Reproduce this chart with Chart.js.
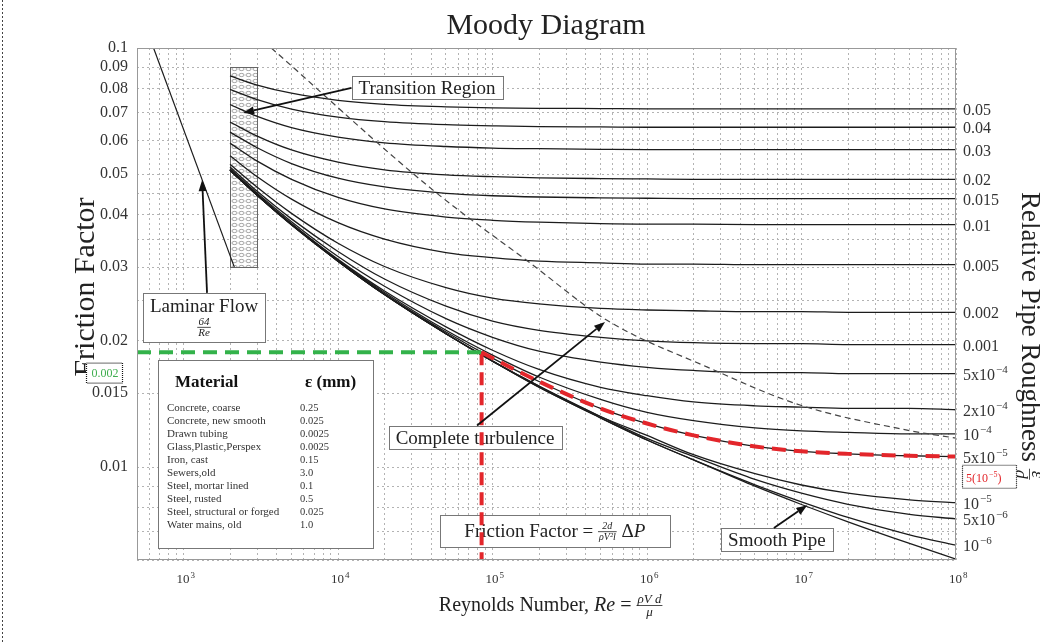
<!DOCTYPE html>
<html>
<head>
<meta charset="utf-8">
<title>Moody Diagram</title>
<script src="https://cdn.jsdelivr.net/npm/chart.js@4.4.1/dist/chart.umd.min.js"></script>
<style>
    body { margin: 0; background: #fff; }
    canvas { display: block; }
</style>
</head>
<body>
<canvas id="grafico" width="1040" height="644"></canvas>
<script>
var SERIF = '"Liberation Serif", "DejaVu Serif", serif';

// Reynolds onde as curvas foram lidas
var reynolds = [2000, 3000, 5000, 1e4, 2e4, 5e4, 1e5, 2e5, 5e5, 1e6, 2e6, 5e6, 1e7, 2e7, 5e7, 1e8];

// fator de atrito de cada curva de rugosidade relativa
var f_0_05  = [0.0858, 0.0816, 0.0780, 0.0750, 0.0734, 0.0724, 0.0720, 0.0718, 0.0717, 0.0716, 0.0716, 0.0716, 0.0716, 0.0716, 0.0716, 0.0716];
var f_0_04  = [0.0797, 0.0753, 0.0715, 0.0684, 0.0667, 0.0656, 0.0652, 0.0649, 0.0648, 0.0647, 0.0647, 0.0647, 0.0647, 0.0647, 0.0647, 0.0647];
var f_0_03  = [0.0733, 0.0687, 0.0646, 0.0613, 0.0594, 0.0582, 0.0577, 0.0575, 0.0573, 0.0572, 0.0572, 0.0572, 0.0572, 0.0572, 0.0572, 0.0572];
var f_0_02  = [0.0666, 0.0616, 0.0571, 0.0534, 0.0512, 0.0498, 0.0493, 0.0490, 0.0488, 0.0487, 0.0486, 0.0486, 0.0486, 0.0486, 0.0486, 0.0486];
var f_0_015 = [0.0630, 0.0578, 0.0530, 0.0489, 0.0466, 0.0450, 0.0444, 0.0441, 0.0439, 0.0438, 0.0437, 0.0437, 0.0437, 0.0437, 0.0437, 0.0437];
var f_0_01  = [0.0593, 0.0537, 0.0486, 0.0440, 0.0413, 0.0395, 0.0388, 0.0384, 0.0381, 0.0380, 0.0380, 0.0379, 0.0379, 0.0379, 0.0379, 0.0379];
var f_0_005 = [0.0553, 0.0493, 0.0436, 0.0383, 0.0350, 0.0325, 0.0316, 0.0310, 0.0307, 0.0305, 0.0305, 0.0304, 0.0304, 0.0304, 0.0304, 0.0304];
var f_0_002 = [0.0528, 0.0465, 0.0403, 0.0342, 0.0301, 0.0268, 0.0253, 0.0245, 0.0239, 0.0237, 0.0236, 0.0235, 0.0235, 0.0234, 0.0234, 0.0234];
var f_0_001 = [0.0520, 0.0455, 0.0391, 0.0327, 0.0281, 0.0242, 0.0223, 0.0212, 0.0204, 0.0200, 0.0198, 0.0197, 0.0197, 0.0196, 0.0196, 0.0196];
var f_5e4   = [0.0515, 0.0450, 0.0385, 0.0318, 0.0270, 0.0226, 0.0204, 0.0189, 0.0178, 0.0173, 0.0170, 0.0168, 0.0168, 0.0167, 0.0167, 0.0167];
var f_2e4   = [0.0513, 0.0447, 0.0381, 0.0313, 0.0263, 0.0216, 0.0190, 0.0171, 0.0155, 0.0148, 0.0143, 0.0140, 0.0139, 0.0138, 0.0138, 0.0137];
var f_1e4   = [0.0512, 0.0446, 0.0380, 0.0311, 0.0261, 0.0212, 0.0185, 0.0164, 0.0145, 0.0135, 0.0129, 0.0124, 0.0122, 0.0121, 0.0120, 0.0120];
var f_5e5   = [0.0511, 0.0445, 0.0379, 0.0311, 0.0259, 0.0210, 0.0182, 0.0160, 0.0138, 0.0127, 0.0119, 0.0112, 0.0109, 0.01075, 0.01064, 0.01059];
var f_1e5   = [0.0511, 0.0445, 0.0379, 0.0310, 0.0258, 0.0208, 0.0179, 0.0156, 0.0132, 0.0119, 0.0107, 0.00964, 0.00906, 0.00866, 0.00835, 0.00822];
var f_5e6   = [0.0511, 0.0445, 0.0379, 0.0310, 0.0258, 0.0208, 0.0179, 0.0156, 0.0132, 0.0117, 0.0106, 0.00934, 0.00866, 0.00815, 0.00771, 0.00752];
var f_1e6   = [0.0511, 0.0445, 0.0379, 0.0310, 0.0258, 0.0208, 0.0179, 0.0155, 0.0131, 0.0116, 0.0104, 0.00907, 0.00826, 0.00758, 0.00689, 0.00651];
var f_liso  = [0.0511, 0.0445, 0.0378, 0.0310, 0.0258, 0.0208, 0.0179, 0.0155, 0.0131, 0.0116, 0.0104, 0.00900, 0.00814, 0.00740, 0.00657, 0.00603];

var curvas = [f_0_05, f_0_04, f_0_03, f_0_02, f_0_015, f_0_01, f_0_005, f_0_002, f_0_001,
              f_5e4, f_2e4, f_1e4, f_5e5, f_1e5, f_5e6, f_1e6];

var rotuloBase = ['0.05', '0.04', '0.03', '0.02', '0.015', '0.01', '0.005', '0.002', '0.001',
                  '5x10', '2x10', '10', '5x10', '10', '5x10', '10'];
var rotuloExp  = ['', '', '', '', '', '', '', '', '',
                  '\u22124', '\u22124', '\u22124', '\u22125', '\u22125', '\u22126', '\u22126'];

var laminarRe = [640, 2133];
var laminarF  = [0.1, 0.03];

var turbulenciaRe = [3700, 41200, 175000, 551000, 2440000, 9770000, 48200000, 1e8];
var turbulenciaF  = [0.1, 0.0458, 0.0307, 0.0224, 0.01734, 0.01406, 0.01225, 0.01172];

var transicaoRe = [2000, 3000];
var transicaoF  = [0.03, 0.09];

// exemplo destacado (verde / vermelho)
var exemploRe = 85000;
var exemploF  = 0.0188;
var exemploCurvaRe = [85000, 1e5, 2e5, 5e5, 1e6, 2e6, 5e6, 1e7, 2e7, 5e7, 1e8];
var exemploCurvaF  = [0.0188, 0.0182, 0.0160, 0.0138, 0.0127, 0.0119, 0.0112, 0.0109, 0.01075, 0.01064, 0.01059];

var minRe = 500, maxRe = 1e8;
var minF = 0.006, maxF = 0.1;

var decadasX = [1e3, 1e4, 1e5, 1e6, 1e7, 1e8];
var expoentesX = ['3', '4', '5', '6', '7', '8'];

var marcasY  = [0.006, 0.007, 0.008, 0.009, 0.01, 0.015, 0.02, 0.025, 0.03, 0.035, 0.04, 0.045, 0.05, 0.06, 0.07, 0.08, 0.09, 0.1];
var rotulosY = ['', '', '', '', '0.01', '0.015', '0.02', '', '0.03', '', '0.04', '', '0.05', '0.06', '0.07', '0.08', '0.09', '0.1'];

var materiais = ['Concrete, coarse', 'Concrete, new smooth', 'Drawn tubing', 'Glass,Plastic,Perspex', 'Iron, cast',
                 'Sewers,old', 'Steel, mortar lined', 'Steel, rusted', 'Steel, structural or forged', 'Water mains, old'];
var rugosidadeMm = ['0.25', '0.025', '0.0025', '0.0025', '0.15', '3.0', '0.1', '0.5', '0.025', '1.0'];

var marcasX = [];
[100, 1000, 1e4, 1e5, 1e6, 1e7].forEach(function(d) {
    for (var k = 1; k <= 9; k++) {
        if (k * d >= minRe) marcasX.push(k * d);
    }
});
marcasX.push(1e8);

function pontos(xs, ys) {
    return xs.map(function(x, i) { return {x: x, y: ys[i]}; });
}

function seta(ctx, x0, y0, x1, y1) {
    var ang = Math.atan2(y1 - y0, x1 - x0);
    var comp = 11, larg = 4;
    var bx = x1 - comp * Math.cos(ang), by = y1 - comp * Math.sin(ang);
    ctx.strokeStyle = '#111';
    ctx.fillStyle = '#111';
    ctx.lineWidth = 1.8;
    ctx.setLineDash([]);
    ctx.beginPath();
    ctx.moveTo(x0, y0);
    ctx.lineTo(bx, by);
    ctx.stroke();
    ctx.beginPath();
    ctx.moveTo(x1, y1);
    ctx.lineTo(bx + larg * Math.sin(ang), by - larg * Math.cos(ang));
    ctx.lineTo(bx - larg * Math.sin(ang), by + larg * Math.cos(ang));
    ctx.closePath();
    ctx.fill();
}

function caixa(ctx, x, y, w, h) {
    ctx.setLineDash([]);
    ctx.fillStyle = '#fff';
    ctx.fillRect(x, y, w, h);
    ctx.strokeStyle = '#777';
    ctx.lineWidth = 1;
    ctx.strokeRect(Math.round(x) + 0.5, Math.round(y) + 0.5, Math.round(w), Math.round(h));
}

function caixaTexto(ctx, cx, cy, texto, tamanho) {
    ctx.font = tamanho + 'px ' + SERIF;
    var w = ctx.measureText(texto).width + 14, h = tamanho + 4;
    caixa(ctx, cx - w / 2, cy - h / 2, w, h);
    ctx.fillStyle = '#222';
    ctx.textAlign = 'center';
    ctx.textBaseline = 'middle';
    ctx.fillText(texto, cx, cy + 1);
    return {x: cx - w / 2, y: cy - h / 2, w: w, h: h};
}

function fracao(ctx, num, den, x, yBarra, fonte) {
    ctx.font = fonte;
    var w = Math.max(ctx.measureText(num).width, ctx.measureText(den).width) + 2;
    ctx.textAlign = 'center';
    ctx.textBaseline = 'alphabetic';
    ctx.fillText(num, x + w / 2, yBarra - 2);
    ctx.textBaseline = 'top';
    ctx.fillText(den, x + w / 2, yBarra + 1);
    ctx.setLineDash([]);
    ctx.lineWidth = 0.8;
    ctx.beginPath();
    ctx.moveTo(x, yBarra + 0.5);
    ctx.lineTo(x + w, yBarra + 0.5);
    ctx.stroke();
    ctx.textBaseline = 'alphabetic';
    return w;
}

function potencia(ctx, base, exp, x, y, tamanho) {
    ctx.textAlign = 'left';
    ctx.textBaseline = 'alphabetic';
    ctx.font = tamanho + 'px ' + SERIF;
    ctx.fillText(base, x, y);
    var w = ctx.measureText(base).width;
    if (exp) {
        ctx.font = Math.round(tamanho * 0.68) + 'px ' + SERIF;
        ctx.fillText(exp, x + w + 1, y - tamanho * 0.42);
        w += ctx.measureText(exp).width + 1;
    }
    return w;
}

function criaPadrao(ctx) {
    var c = document.createElement('canvas');
    c.width = 7;
    c.height = 6;
    var p = c.getContext('2d');
    p.fillStyle = '#fff';
    p.fillRect(0, 0, 7, 6);
    p.strokeStyle = '#8a8a8a';
    p.lineWidth = 0.8;
    p.beginPath();
    p.ellipse(3.5, 3, 2.6, 1.6, 0, 0, Math.PI * 2);
    p.stroke();
    return ctx.createPattern(c, 'repeat');
}

var anotacoes = {
    id: 'anotacoes',
    beforeDatasetsDraw: function(chart) {
        var ctx = chart.ctx, a = chart.chartArea, sx = chart.scales.x, sy = chart.scales.y;
        ctx.save();

        // regiao de transicao
        var x0 = sx.getPixelForValue(transicaoRe[0]), x1 = sx.getPixelForValue(transicaoRe[1]);
        var y0 = sy.getPixelForValue(transicaoF[1]), y1 = sy.getPixelForValue(transicaoF[0]);
        ctx.fillStyle = criaPadrao(ctx);
        ctx.fillRect(x0, y0, x1 - x0, y1 - y0);
        ctx.strokeStyle = '#666';
        ctx.lineWidth = 1;
        ctx.strokeRect(Math.round(x0) + 0.5, Math.round(y0) + 0.5, Math.round(x1 - x0), Math.round(y1 - y0));

        // caixas de texto
        caixaTexto(ctx, sx.getPixelForValue(37700), sy.getPixelForValue(0.0803), 'Transition Region', 19);
        caixaTexto(ctx, sx.getPixelForValue(77100), sy.getPixelForValue(0.01176), 'Complete turbulence', 19);
        caixaTexto(ctx, sx.getPixelForValue(6.93e6), sy.getPixelForValue(0.0067), 'Smooth Pipe', 19);

        // laminar
        var lx = sx.getPixelForValue(1358), ly = sy.getPixelForValue(0.0227);
        caixa(ctx, lx - 61, ly - 25, 122, 49);
        ctx.fillStyle = '#222';
        ctx.strokeStyle = '#222';
        ctx.font = '19px ' + SERIF;
        ctx.textAlign = 'center';
        ctx.textBaseline = 'alphabetic';
        ctx.fillText('Laminar Flow', lx, ly - 6);
        ctx.font = 'italic 11px ' + SERIF;
        var wl = Math.max(ctx.measureText('64').width, ctx.measureText('Re').width) + 2;
        fracao(ctx, '64', 'Re', lx - wl / 2, ly + 9, 'italic 11px ' + SERIF);

        // fator de atrito
        var fx = sx.getPixelForValue(253000), fy = sy.getPixelForValue(0.00703);
        caixa(ctx, fx - 115, fy - 16, 230, 32);
        ctx.fillStyle = '#222';
        ctx.strokeStyle = '#222';
        ctx.font = '19px ' + SERIF;
        var t1 = 'Friction Factor = ';
        var w1 = ctx.measureText(t1).width;
        ctx.font = 'italic 10px ' + SERIF;
        var wf = Math.max(ctx.measureText('2d').width, ctx.measureText('\u03c1V\u00b2l').width) + 2;
        ctx.font = '19px ' + SERIF;
        var w3 = ctx.measureText(' \u0394').width;
        ctx.font = 'italic 19px ' + SERIF;
        var w4 = ctx.measureText('P').width;
        var ix = fx - (w1 + wf + w3 + w4) / 2, base = fy + 6;
        ctx.font = '19px ' + SERIF;
        ctx.textAlign = 'left';
        ctx.fillText(t1, ix, base);
        fracao(ctx, '2d', '\u03c1V\u00b2l', ix + w1, base - 6, 'italic 10px ' + SERIF);
        ctx.font = '19px ' + SERIF;
        ctx.textAlign = 'left';
        ctx.fillText(' \u0394', ix + w1 + wf, base);
        ctx.font = 'italic 19px ' + SERIF;
        ctx.fillText('P', ix + w1 + wf + w3, base);

        // tabela de materiais
        var tx = sx.getPixelForValue(684), ty = sy.getPixelForValue(0.0180);
        caixa(ctx, tx, ty, 215, 188);
        ctx.fillStyle = '#111';
        ctx.textAlign = 'left';
        ctx.textBaseline = 'alphabetic';
        ctx.font = 'bold 17px ' + SERIF;
        ctx.fillText('Material', tx + 17, ty + 27);
        ctx.fillText('\u03b5 (mm)', tx + 147, ty + 27);
        ctx.fillStyle = '#333';
        for (var i = 0; i < materiais.length; i++) {
            ctx.font = '11px ' + SERIF;
            ctx.fillText(materiais[i], tx + 9, ty + 51 + i * 13);
            ctx.font = '10.5px ' + SERIF;
            ctx.fillText(rugosidadeMm[i], tx + 142, ty + 51 + i * 13);
        }

        ctx.restore();
    },
    afterDatasetsDraw: function(chart) {
        var ctx = chart.ctx, a = chart.chartArea, sx = chart.scales.x, sy = chart.scales.y;
        ctx.save();
        // moldura
        ctx.setLineDash([]);
        ctx.strokeStyle = '#999';
        ctx.lineWidth = 1;
        ctx.strokeRect(Math.round(a.left) + 0.5, Math.round(a.top) + 0.5, Math.round(a.right - a.left) - 1, Math.round(a.bottom - a.top) - 1);

        // setas
        var tr = sx.getPixelForValue(37700);
        ctx.font = '19px ' + SERIF;
        var wtr = ctx.measureText('Transition Region').width + 14;
        seta(ctx, tr - wtr / 2, sy.getPixelForValue(0.0803), sx.getPixelForValue(2430), sy.getPixelForValue(0.070));
        var lx = sx.getPixelForValue(1358), ly = sy.getPixelForValue(0.0227);
        seta(ctx, lx + 3, ly - 25, sx.getPixelForValue(1320), sy.getPixelForValue(0.0484));
        seta(ctx, sx.getPixelForValue(77100) + 2, sy.getPixelForValue(0.01176) - 12, sx.getPixelForValue(535000), sy.getPixelForValue(0.0222));
        seta(ctx, sx.getPixelForValue(6.93e6) - 3, sy.getPixelForValue(0.0067) - 12, sx.getPixelForValue(1.09e7), sy.getPixelForValue(0.00811));
        ctx.restore();
    },
    afterDraw: function(chart) {
        var ctx = chart.ctx, a = chart.chartArea, sx = chart.scales.x, sy = chart.scales.y;
        ctx.save();

        // borda pontilhada da pagina
        ctx.strokeStyle = '#444';
        ctx.lineWidth = 1;
        ctx.setLineDash([2, 2]);
        ctx.beginPath();
        ctx.moveTo(2.5, 0);
        ctx.lineTo(2.5, 644);
        ctx.stroke();
        ctx.setLineDash([]);

        // titulo
        ctx.fillStyle = '#222';
        ctx.font = '30px ' + SERIF;
        ctx.textAlign = 'center';
        ctx.textBaseline = 'alphabetic';
        ctx.fillText('Moody Diagram', 546, 34);

        // rotulos do eixo x
        ctx.fillStyle = '#333';
        decadasX.forEach(function(d, i) {
            var x = sx.getPixelForValue(d);
            potencia(ctx, '10', expoentesX[i], x - 7, 583, 13);
        });

        // titulo do eixo x
        ctx.fillStyle = '#222';
        ctx.strokeStyle = '#222';
        ctx.font = '20px ' + SERIF;
        var p1 = 'Reynolds Number, ', w1 = ctx.measureText(p1).width;
        ctx.font = 'italic 20px ' + SERIF;
        var w2 = ctx.measureText('Re').width;
        ctx.font = '20px ' + SERIF;
        var w3 = ctx.measureText(' = ').width;
        ctx.font = 'italic 13px ' + SERIF;
        var wf = ctx.measureText('\u03c1Vd').width + 2;
        var ix = 549 - (w1 + w2 + w3 + wf) / 2, base = 611;
        ctx.textAlign = 'left';
        ctx.font = '20px ' + SERIF;
        ctx.fillText(p1, ix, base);
        ctx.font = 'italic 20px ' + SERIF;
        ctx.fillText('Re', ix + w1, base);
        ctx.font = '20px ' + SERIF;
        ctx.fillText(' = ', ix + w1 + w2, base);
        fracao(ctx, '\u03c1V d', '\u03bc', ix + w1 + w2 + w3, base - 6, 'italic 13px ' + SERIF);

        // titulo do eixo y
        ctx.save();
        ctx.translate(94, 287);
        ctx.rotate(-Math.PI / 2);
        ctx.font = '30px ' + SERIF;
        ctx.textAlign = 'center';
        ctx.textBaseline = 'alphabetic';
        ctx.fillStyle = '#222';
        ctx.fillText('Friction Factor', 0, 0);
        ctx.restore();

        // titulo do eixo direito
        ctx.save();
        ctx.translate(1022, 192);
        ctx.rotate(Math.PI / 2);
        ctx.font = '27px ' + SERIF;
        ctx.textAlign = 'left';
        ctx.textBaseline = 'alphabetic';
        ctx.fillStyle = '#222';
        ctx.strokeStyle = '#222';
        ctx.fillText('Relative Pipe Roughness', 0, 0);
        var wr = ctx.measureText('Relative Pipe Roughness ').width;
        fracao(ctx, '\u03b5', 'd', wr, -8, 'italic 18px ' + SERIF);
        ctx.restore();

        // rotulos das curvas
        ctx.fillStyle = '#333';
        curvas.forEach(function(f, i) {
            var y = sy.getPixelForValue(f[f.length - 1]) + 6;
            potencia(ctx, rotuloBase[i], rotuloExp[i], 963, y, 16);
        });

        // caixa verde
        var gy = sy.getPixelForValue(0.0168);
        ctx.fillStyle = '#fff';
        ctx.fillRect(86, gy - 10, 37, 21);
        ctx.setLineDash([1, 1]);
        ctx.strokeStyle = '#111';
        ctx.lineWidth = 1.2;
        ctx.strokeRect(86.5, gy - 9.5, 36, 20);
        ctx.setLineDash([]);
        ctx.fillStyle = '#3fae4f';
        ctx.font = '12px ' + SERIF;
        ctx.textAlign = 'center';
        ctx.textBaseline = 'middle';
        ctx.fillText('0.002', 105, gy + 1);

        // caixa vermelha
        var ry = sy.getPixelForValue(0.00948);
        ctx.fillStyle = '#fff';
        ctx.fillRect(962, ry - 12, 55, 24);
        ctx.setLineDash([1, 1]);
        ctx.strokeStyle = '#111';
        ctx.lineWidth = 1.2;
        ctx.strokeRect(962.5, ry - 11.5, 54, 23);
        ctx.setLineDash([]);
        ctx.fillStyle = '#e3262b';
        var wb = potencia(ctx, '5(10', '\u22125', 966, ry + 5, 12);
        ctx.font = '12px ' + SERIF;
        ctx.fillText(')', 966 + wb, ry + 5);

        ctx.restore();
    }
};

var conjuntos = [];

conjuntos.push({
    data: pontos([minRe, exemploRe], [exemploF, exemploF]),
    borderColor: '#33b24a', borderWidth: 4, borderDash: [14, 8]
});
conjuntos.push({
    data: pontos([exemploRe, exemploRe], [exemploF, minF]),
    borderColor: '#e3262b', borderWidth: 4, borderDash: [13, 7]
});
conjuntos.push({
    data: pontos(exemploCurvaRe, exemploCurvaF),
    borderColor: '#e3262b', borderWidth: 4, borderDash: [14, 8], cubicInterpolationMode: 'monotone'
});
conjuntos.push({
    data: pontos(turbulenciaRe, turbulenciaF),
    borderColor: '#444', borderWidth: 1.2, borderDash: [6, 4], cubicInterpolationMode: 'monotone'
});
conjuntos.push({
    data: pontos(laminarRe, laminarF),
    borderColor: '#1c1c1c', borderWidth: 1.2
});
curvas.concat([f_liso]).forEach(function(f) {
    conjuntos.push({
        data: pontos(reynolds, f),
        borderColor: '#1c1c1c', borderWidth: 1.3, cubicInterpolationMode: 'monotone'
    });
});
conjuntos.forEach(function(c) {
    c.showLine = true;
    c.pointRadius = 0;
    c.fill = false;
});

var grafico = new Chart(document.getElementById('grafico'), {
    type: 'scatter',
    data: { datasets: conjuntos },
    options: {
        responsive: false,
        animation: false,
        devicePixelRatio: 1,
        layout: { padding: { top: 48, right: 84, left: 0, bottom: 0 } },
        plugins: {
            legend: { display: false },
            tooltip: { enabled: false },
            title: { display: false }
        },
        scales: {
            x: {
                type: 'logarithmic',
                min: minRe,
                max: maxRe,
                afterBuildTicks: function(escala) {
                    escala.ticks = marcasX.map(function(v) { return {value: v}; });
                },
                afterFit: function(escala) { escala.height = 84; },
                ticks: { display: false },
                grid: { color: '#b3b3b3', lineWidth: 1, drawTicks: false },
                border: { display: false, dash: [2, 3] }
            },
            y: {
                type: 'logarithmic',
                min: minF,
                max: maxF,
                afterBuildTicks: function(escala) {
                    escala.ticks = marcasY.map(function(v) { return {value: v}; });
                },
                afterFit: function(escala) { escala.width = 137; },
                ticks: {
                    autoSkip: false,
                    padding: 9,
                    color: '#333',
                    font: { family: SERIF, size: 16 },
                    callback: function(v) {
                        var i = marcasY.indexOf(v);
                        return i >= 0 ? rotulosY[i] : '';
                    }
                },
                grid: { color: '#b3b3b3', lineWidth: 1, drawTicks: false },
                border: { display: false, dash: [2, 3] }
            }
        }
    },
    plugins: [anotacoes]
});
</script>
</body>
</html>
